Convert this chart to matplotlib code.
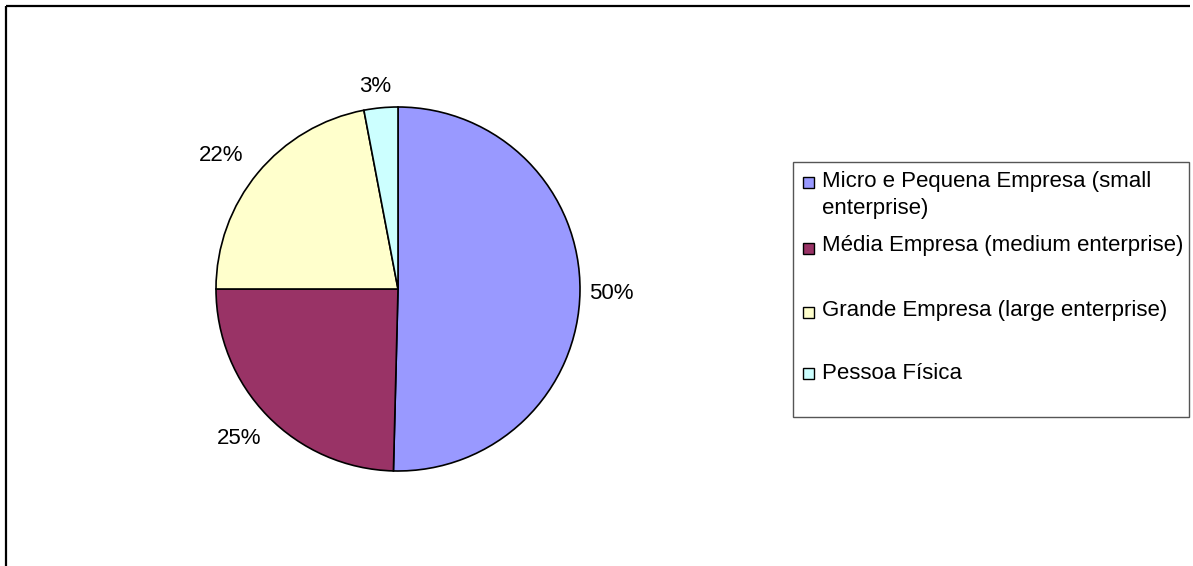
import matplotlib
matplotlib.use('Agg')
import numpy as np
import matplotlib.pyplot as plt
from matplotlib.patches import Rectangle

plt.rcParams['font.family'] = ['Liberation Sans', 'DejaVu Sans']

categories = ['Micro e Pequena Empresa (small\nenterprise)',
              'Média Empresa (medium enterprise)',
              'Grande Empresa (large enterprise)',
              'Pessoa Física']
shares = [50.4, 24.6, 22.0, 3.0]
colors = ['#9999FF', '#993366', '#FFFFCC', '#CCFFFF']

# radial distance (in radii) and angular nudge (deg) of each % label
label_place = [(1.17, -0.4), (1.20, -1.0), (1.22, 2.5), (1.12, 1.1)]

W, H = 1193, 566
fig = plt.figure(figsize=(W / 100, H / 100), dpi=100)

# overlay in pixel coordinates for the frame and the legend
bg = fig.add_axes([0, 0, 1, 1])
bg.set_xlim(0, W)
bg.set_ylim(H, 0)
bg.axis('off')
bg.plot([6, 1190], [6, 6], color='black', lw=1.6, solid_capstyle='butt')
bg.plot([6, 6], [6, H], color='black', lw=1.6, solid_capstyle='butt')

# pie: centre (398, 289), radius 182 px
cx, cy, r = 398, 289, 182
ax = fig.add_axes([(cx - r) / W, (H - cy - r) / H, 2 * r / W, 2 * r / H])
wedges, texts, autotexts = ax.pie(
    shares, colors=colors, startangle=90, counterclock=False,
    autopct='%.0f%%', pctdistance=1.19,
    wedgeprops=dict(edgecolor='black', linewidth=1.2),
    textprops=dict(fontsize=16, color='black'))
ax.set_xlim(-1, 1)
ax.set_ylim(-1, 1)

for w, t, (d, nudge) in zip(wedges, autotexts, label_place):
    mid = np.deg2rad((w.theta1 + w.theta2) / 2 + nudge)
    t.set_position((d * np.cos(mid), d * np.sin(mid)))

# legend box
bg.add_patch(Rectangle((793, 162), 396, 255, facecolor='white',
                       edgecolor='#555555', lw=1.0))
marker_y = [182, 248, 312, 373]
baselines = [[187, 214], [251], [316], [379]]
for lab, col, my, bls in zip(categories, colors, marker_y, baselines):
    bg.add_patch(Rectangle((803, my - 5), 11, 11, facecolor=col,
                           edgecolor='black', lw=1.0))
    for line, yb in zip(lab.split('\n'), bls):
        bg.text(822, yb, line, fontsize=16, va='baseline', ha='left')

fig.savefig('out.png', dpi=100)
